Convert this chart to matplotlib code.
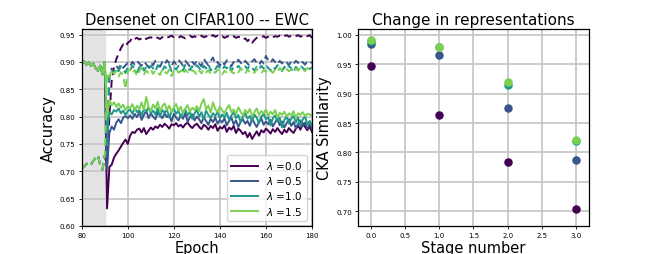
import numpy as np
import matplotlib
matplotlib.use("Agg")
import matplotlib.pyplot as plt

# ---- data: left panel (accuracy per epoch) ----
epochs_pre = list(range(80, 91))
epochs_post = list(range(91, 181))

pre_solid = [0.896, 0.901, 0.895, 0.899, 0.893, 0.897, 0.889, 0.884, 0.893, 0.877, 0.900]
pre_dashed = [0.705, 0.709, 0.713, 0.716, 0.712, 0.719, 0.724, 0.729, 0.712, 0.703, 0.728]

lambdas = [0.0, 0.5, 1.0, 1.5]

solid_l00 = [0.632, 0.708, 0.712, 0.725, 0.732, 0.738, 0.745, 0.752, 0.758, 0.750,
             0.765, 0.772, 0.770, 0.776, 0.778, 0.771, 0.779, 0.768, 0.774, 0.780,
             0.776, 0.782, 0.779, 0.785, 0.781, 0.787, 0.783, 0.778, 0.786, 0.784,
             0.788, 0.782, 0.785, 0.780, 0.786, 0.789, 0.783, 0.779, 0.784, 0.787,
             0.781, 0.777, 0.785, 0.782, 0.776, 0.783, 0.779, 0.786, 0.774, 0.781,
             0.778, 0.784, 0.772, 0.780, 0.776, 0.783, 0.770, 0.778, 0.774, 0.768,
             0.772, 0.762, 0.770, 0.759, 0.766, 0.773, 0.765, 0.775, 0.771, 0.778,
             0.774, 0.769, 0.777, 0.772, 0.779, 0.773, 0.768, 0.776, 0.771, 0.779,
             0.774, 0.770, 0.778, 0.783, 0.776, 0.788, 0.781, 0.775, 0.782, 0.772]
solid_l05 = [0.705, 0.770, 0.782, 0.776, 0.789, 0.795, 0.788, 0.798, 0.801, 0.797,
             0.802, 0.796, 0.805, 0.799, 0.808, 0.794, 0.803, 0.811, 0.797, 0.806,
             0.800, 0.795, 0.808, 0.802, 0.797, 0.806, 0.799, 0.803, 0.791, 0.805,
             0.798, 0.793, 0.802, 0.796, 0.807, 0.790, 0.799, 0.804, 0.793, 0.800,
             0.795, 0.788, 0.799, 0.792, 0.785, 0.796, 0.790, 0.798, 0.787, 0.794,
             0.789, 0.797, 0.784, 0.792, 0.798, 0.786, 0.793, 0.781, 0.790, 0.795,
             0.787, 0.792, 0.783, 0.796, 0.788, 0.781, 0.790, 0.797, 0.785, 0.791,
             0.786, 0.794, 0.782, 0.789, 0.797, 0.784, 0.791, 0.780, 0.788, 0.795,
             0.783, 0.790, 0.779, 0.787, 0.793, 0.782, 0.789, 0.778, 0.786, 0.781]
solid_l10 = [0.775, 0.808, 0.804, 0.812, 0.809, 0.815, 0.806, 0.811, 0.803, 0.810,
             0.813, 0.805, 0.816, 0.808, 0.812, 0.802, 0.814, 0.809, 0.817, 0.806,
             0.811, 0.804, 0.815, 0.800, 0.812, 0.807, 0.813, 0.798, 0.809, 0.814,
             0.805, 0.811, 0.799, 0.808, 0.813, 0.802, 0.809, 0.796, 0.806, 0.812,
             0.800, 0.808, 0.795, 0.811, 0.803, 0.798, 0.806, 0.801, 0.809, 0.797,
             0.804, 0.799, 0.807, 0.794, 0.802, 0.808, 0.797, 0.803, 0.790, 0.800,
             0.806, 0.796, 0.801, 0.792, 0.804, 0.798, 0.788, 0.800, 0.805, 0.795,
             0.799, 0.784, 0.797, 0.802, 0.791, 0.798, 0.780, 0.794, 0.800, 0.787,
             0.796, 0.801, 0.789, 0.798, 0.782, 0.795, 0.800, 0.786, 0.792, 0.784]
solid_l15 = [0.800, 0.830, 0.821, 0.826, 0.818, 0.824, 0.816, 0.822, 0.812, 0.819,
             0.815, 0.823, 0.811, 0.820, 0.814, 0.826, 0.812, 0.836, 0.818, 0.810,
             0.822, 0.815, 0.827, 0.809, 0.819, 0.824, 0.812, 0.820, 0.808, 0.817,
             0.823, 0.811, 0.818, 0.806, 0.815, 0.821, 0.809, 0.816, 0.812, 0.819,
             0.810, 0.824, 0.832, 0.813, 0.820, 0.807, 0.826, 0.814, 0.808, 0.818,
             0.811, 0.806, 0.815, 0.821, 0.808, 0.813, 0.804, 0.817, 0.809, 0.802,
             0.812, 0.806, 0.814, 0.801, 0.808, 0.815, 0.803, 0.810, 0.806, 0.813,
             0.801, 0.809, 0.804, 0.812, 0.798, 0.807, 0.803, 0.809, 0.800, 0.806,
             0.802, 0.810, 0.797, 0.806, 0.803, 0.808, 0.801, 0.805, 0.804, 0.802]

dashed_l00 = [0.712, 0.800, 0.865, 0.890, 0.905, 0.915, 0.925, 0.932, 0.928, 0.935,
              0.938, 0.945, 0.942, 0.944, 0.941, 0.943, 0.946, 0.942, 0.944, 0.945,
              0.943, 0.946, 0.944, 0.942, 0.945, 0.947, 0.944, 0.946, 0.948, 0.945,
              0.946, 0.944, 0.947, 0.945, 0.943, 0.946, 0.948, 0.945, 0.947, 0.944,
              0.946, 0.948, 0.945, 0.947, 0.944, 0.946, 0.949, 0.946, 0.948, 0.945,
              0.947, 0.944, 0.946, 0.948, 0.945, 0.947, 0.944, 0.946, 0.945, 0.941,
              0.943, 0.938, 0.942, 0.935, 0.940, 0.944, 0.946, 0.945, 0.947, 0.944,
              0.946, 0.948, 0.945, 0.947, 0.946, 0.948, 0.945, 0.947, 0.949, 0.946,
              0.948, 0.946, 0.947, 0.949, 0.946, 0.948, 0.950, 0.947, 0.949, 0.944]
dashed_l05 = [0.760, 0.875, 0.888, 0.882, 0.893, 0.887, 0.896, 0.889, 0.894, 0.898,
              0.892, 0.900, 0.895, 0.902, 0.897, 0.893, 0.901, 0.896, 0.890, 0.899,
              0.894, 0.902, 0.897, 0.891, 0.900, 0.895, 0.903, 0.898, 0.892, 0.901,
              0.896, 0.904, 0.899, 0.893, 0.902, 0.897, 0.891, 0.900, 0.895, 0.903,
              0.897, 0.892, 0.906, 0.899, 0.894, 0.902, 0.908, 0.896, 0.900, 0.893,
              0.901, 0.895, 0.903, 0.898, 0.892, 0.900, 0.896, 0.904, 0.899, 0.894,
              0.902, 0.897, 0.893, 0.901, 0.905, 0.898, 0.894, 0.902, 0.897, 0.911,
              0.903, 0.898, 0.905, 0.900, 0.895, 0.902, 0.897, 0.903, 0.899, 0.894,
              0.901, 0.896, 0.902, 0.898, 0.904, 0.899, 0.895, 0.901, 0.897, 0.900]
dashed_l10 = [0.740, 0.870, 0.884, 0.878, 0.889, 0.883, 0.892, 0.886, 0.880, 0.891,
              0.885, 0.893, 0.887, 0.881, 0.890, 0.895, 0.884, 0.891, 0.886, 0.893,
              0.888, 0.882, 0.894, 0.889, 0.884, 0.892, 0.887, 0.895, 0.883, 0.890,
              0.886, 0.893, 0.888, 0.884, 0.895, 0.889, 0.885, 0.892, 0.887, 0.894,
              0.889, 0.883, 0.893, 0.888, 0.896, 0.884, 0.891, 0.887, 0.893, 0.889,
              0.885, 0.892, 0.888, 0.895, 0.884, 0.890, 0.887, 0.893, 0.888, 0.885,
              0.892, 0.887, 0.894, 0.889, 0.884, 0.891, 0.886, 0.893, 0.888, 0.895,
              0.889, 0.884, 0.892, 0.887, 0.894, 0.888, 0.883, 0.891, 0.886, 0.893,
              0.888, 0.880, 0.891, 0.886, 0.893, 0.889, 0.885, 0.892, 0.887, 0.890]
dashed_l15 = [0.880, 0.872, 0.886, 0.878, 0.884, 0.873, 0.881, 0.876, 0.850, 0.882,
              0.887, 0.879, 0.885, 0.874, 0.883, 0.889, 0.877, 0.884, 0.880, 0.886,
              0.878, 0.885, 0.881, 0.876, 0.887, 0.882, 0.879, 0.886, 0.874, 0.883,
              0.888, 0.880, 0.884, 0.877, 0.886, 0.881, 0.878, 0.885, 0.882, 0.876,
              0.884, 0.879, 0.887, 0.881, 0.885, 0.878, 0.883, 0.880, 0.886, 0.882,
              0.877, 0.884, 0.880, 0.887, 0.882, 0.879, 0.885, 0.881, 0.888, 0.883,
              0.878, 0.886, 0.881, 0.884, 0.880, 0.887, 0.883, 0.879, 0.885, 0.882,
              0.888, 0.884, 0.880, 0.886, 0.882, 0.889, 0.885, 0.881, 0.887, 0.883,
              0.886, 0.882, 0.888, 0.884, 0.890, 0.886, 0.883, 0.889, 0.885, 0.890]

solid_all = [solid_l00, solid_l05, solid_l10, solid_l15]
dashed_all = [dashed_l00, dashed_l05, dashed_l10, dashed_l15]

# ---- data: right panel (CKA similarity per stage) ----
stages = [0, 1, 2, 3]
cka_l00 = [0.947, 0.864, 0.784, 0.703]
cka_l05 = [0.985, 0.966, 0.876, 0.787]
cka_l10 = [0.990, 0.979, 0.915, 0.820]
cka_l15 = [0.992, 0.980, 0.920, 0.821]
cka_all = [cka_l00, cka_l05, cka_l10, cka_l15]

colors = plt.cm.viridis(np.linspace(0, 0.8, 4))

fig = plt.figure(figsize=(6.54, 2.55), dpi=100)
ax1 = fig.add_axes([0.125, 0.110, 0.352, 0.772])
ax2 = fig.add_axes([0.548, 0.110, 0.352, 0.772])

# left panel
ax1.axvspan(80, 90, color='#e3e3e3', zorder=0)
x_all = epochs_pre + epochs_post
for lam, c, s, d in zip(lambdas, colors, solid_all, dashed_all):
    ax1.plot(x_all, pre_solid + s, color=c, lw=1.4, label=r'$\lambda$ =%.1f' % lam)
    ax1.plot(x_all, pre_dashed + d, color=c, lw=1.4, ls='--', dashes=(4, 2.5))
ax1.set_xlim(80, 180)
ax1.set_ylim(0.60, 0.96)
ax1.set_xticks([80, 100, 120, 140, 160, 180])
ax1.set_yticks([0.60, 0.65, 0.70, 0.75, 0.80, 0.85, 0.90, 0.95])
ax1.grid(True, color='#c4c4c4', lw=1.2)
ax1.set_axisbelow(True)
ax1.set_title('Densenet on CIFAR100 -- EWC', fontsize=10.6, pad=4)
ax1.set_xlabel('Epoch', fontsize=10.5, labelpad=1)
ax1.set_ylabel('Accuracy', fontsize=10.5, labelpad=3)
ax1.legend(loc='lower right', fontsize=7.5, handlelength=2.6, borderpad=0.4,
           labelspacing=0.3, framealpha=0.8)

# right panel
for c, vals in zip(colors, cka_all):
    ax2.scatter(stages, vals, color=c, s=26, zorder=3)
ax2.set_xlim(-0.18, 3.18)
ax2.set_ylim(0.675, 1.010)
ax2.set_xticks([0.0, 0.5, 1.0, 1.5, 2.0, 2.5, 3.0])
ax2.set_yticks([0.70, 0.75, 0.80, 0.85, 0.90, 0.95, 1.00])
ax2.grid(True, color='#c4c4c4', lw=1.2)
ax2.set_axisbelow(True)
ax2.set_title('Change in representations', fontsize=11, pad=4)
ax2.set_xlabel('Stage number', fontsize=10.5, labelpad=1)
ax2.set_ylabel('CKA Similarity', fontsize=10.5, labelpad=3)

for ax in (ax1, ax2):
    ax.tick_params(labelsize=5, length=2.5, width=0.6, pad=2)
    for sp in ax.spines.values():
        sp.set_linewidth(0.9)

fig.savefig('out.png', dpi=100)
